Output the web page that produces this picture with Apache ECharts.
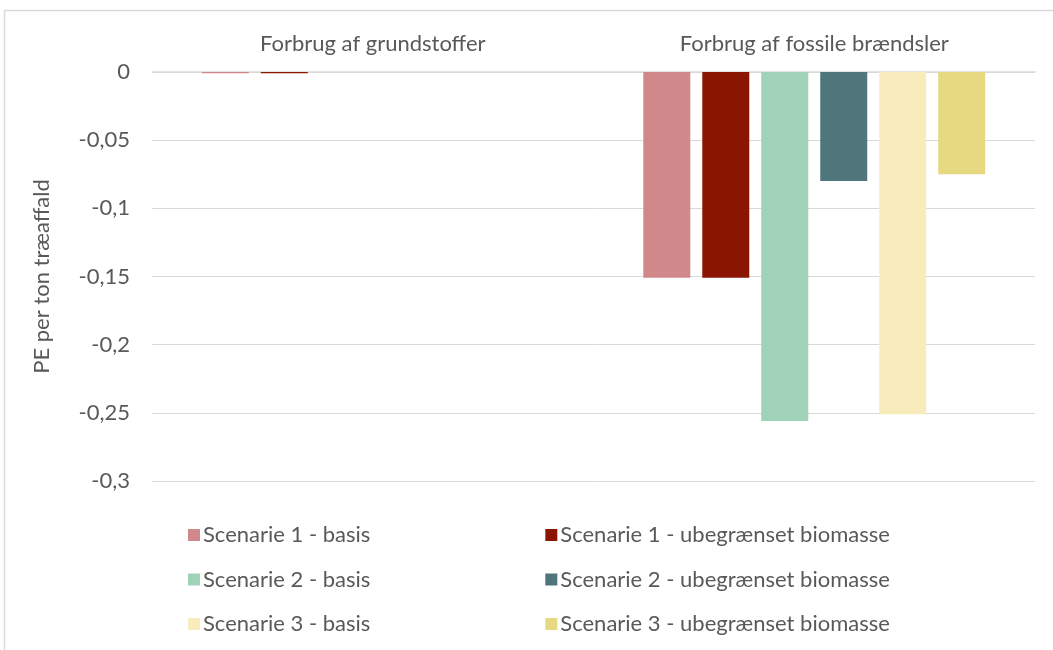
<!DOCTYPE html>
<html>
<head>
<meta charset="utf-8">
<style>
  html, body { margin: 0; padding: 0; background: #ffffff; }
  #chart { width: 1053px; height: 650px; }
</style>
<script src="https://cdn.jsdelivr.net/npm/echarts@6/dist/echarts.min.js"></script>
</head>
<body>
<div id="chart"></div>
<script>
// Impact categories along the top axis
const categories = ['Forbrug af grundstoffer', 'Forbrug af fossile brændsler'];

// Person-equivalents per ton wood waste, one array per scenario
const scen1Basis = [-0.001, -0.151];
const scen1Ubegr = [-0.001, -0.151];
const scen2Basis = [0, -0.256];
const scen2Ubegr = [0, -0.080];
const scen3Basis = [0, -0.251];
const scen3Ubegr = [0, -0.075];

const seriesNames = [
  'Scenarie 1 - basis', 'Scenarie 1 - ubegrænset biomasse',
  'Scenarie 2 - basis', 'Scenarie 2 - ubegrænset biomasse',
  'Scenarie 3 - basis', 'Scenarie 3 - ubegrænset biomasse'
];
const seriesData = [scen1Basis, scen1Ubegr, scen2Basis, scen2Ubegr, scen3Basis, scen3Ubegr];
const seriesColors = ['#D0888B', '#8A1500', '#9FD2B7', '#4F767B', '#F8EBBC', '#E7D982'];

// Value axis tick settings
const yMin = -0.3;
const yMax = 0;
const yStep = 0.05;

const FONT = 'Lato';
const FS = 22;
const TEXT = '#595959';
const GRID = '#d9d9d9';

const chart = echarts.init(document.getElementById('chart'), null, { renderer: 'canvas' });

const legendRows = [0, 1, 2].map(function (r, i) {
  return {
    left: 183,
    top: 519 + i * 44.5,
    orient: 'horizontal',
    itemWidth: 12,
    itemHeight: 12,
    itemGap: 175,
    icon: 'rect',
    selectedMode: false,
    textStyle: { fontFamily: FONT, fontSize: FS, color: TEXT, padding: [0, 0, 0, -2] },
    data: [seriesNames[2 * r], seriesNames[2 * r + 1]]
  };
});

chart.setOption({
  animation: false,
  backgroundColor: '#ffffff',
  textStyle: { fontFamily: FONT },
  graphic: [{
    type: 'rect',
    shape: { x: 4.5, y: 10.5, width: 1200, height: 800 },
    style: { fill: 'none', stroke: GRID, lineWidth: 1.5 },
    silent: true
  }],
  grid: { left: 152, right: 18, top: 72, bottom: 169, containLabel: false },
  legend: legendRows,
  xAxis: {
    type: 'category',
    position: 'top',
    data: categories,
    axisLine: { show: true, lineStyle: { color: GRID, width: 1.5 } },
    axisTick: { show: false },
    axisLabel: { fontFamily: FONT, fontSize: FS, color: TEXT, margin: 17 }
  },
  yAxis: {
    type: 'value',
    min: yMin,
    max: yMax,
    interval: yStep,
    name: 'PE per ton træaffald',
    nameLocation: 'middle',
    nameRotate: 90,
    nameGap: 99,
    nameTextStyle: { fontFamily: FONT, fontSize: FS, color: TEXT },
    axisLine: { show: false },
    axisTick: { show: false },
    splitLine: { lineStyle: { color: GRID, width: 1 } },
    axisLabel: {
      fontFamily: FONT, fontSize: FS, color: TEXT, margin: 22,
      formatter: function (v) { return String(+v.toFixed(2)).replace('.', ','); }
    }
  },
  series: seriesNames.map(function (name, i) {
    return {
      name: name,
      type: 'bar',
      data: seriesData[i],
      barWidth: 47,
      barGap: '25.5%',
      itemStyle: { color: seriesColors[i] }
    };
  })
});
</script>
</body>
</html>
